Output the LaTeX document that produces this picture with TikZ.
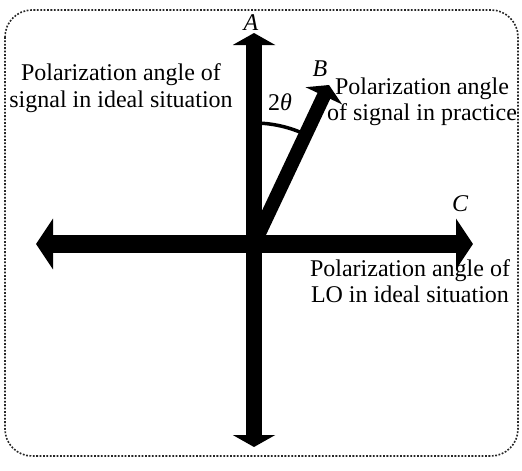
\documentclass[tikz,border=0pt]{standalone}
\usepackage{fontspec}
\setmainfont{Liberation Serif}
\usetikzlibrary{arrows.meta,calc}
\begin{document}
\begin{tikzpicture}[x=1pt,y=-1pt,
  lbl/.style={inner sep=0pt,align=center,font=\fontsize{24}{26.5}\selectfont},
  axlbl/.style={inner sep=0pt,font=\fontsize{24}{26}\selectfont\itshape},
  vaxis/.style={line width=16pt,{Triangle[width=42pt,length=12pt]}-{Triangle[width=42pt,length=12pt]}},
  haxis/.style={line width=18pt,{Triangle[width=50pt,length=17pt]}-{Triangle[width=50pt,length=17pt]}},
  saxis/.style={line width=14pt,-{Triangle[width=40pt,length=12pt]}},
  frame/.style={line width=1.6pt,draw=black!85,dash pattern=on 1.8pt off 1.6pt,rounded corners=27pt}]
\useasboundingbox (0,0) rectangle (522,471);
\draw[frame] (5,10) rectangle (518,456);
\coordinate (O) at (254,244);
\coordinate (Atip) at (254,33);
\coordinate (Dtip) at (254,447);
\coordinate (Ltip) at (36,244);
\coordinate (Ctip) at (473,244);
\coordinate (Btip) at (329,85);
\draw[vaxis] (Dtip) -- (Atip);
\draw[haxis] (Ltip) -- (Ctip);
\draw[saxis] (O) -- (Btip);
\draw[line width=3.5pt] ($(O)+(0,-121)$) arc[start angle=-90,end angle=-64.7,radius=121];
\node[axlbl] (A) at (251,23) {A};
\node[axlbl] (B) at (320,69) {B};
\node[axlbl] (C) at (460,204) {C};
\node[inner sep=0pt,font=\fontsize{24}{26}\selectfont] (th) at (280,102) {2\textit{θ}};
\node[lbl] (sig) at (121,88) {Polarization angle of\\signal in ideal situation};
\node[lbl] (prac) at (422,102) {Polarization angle\\of signal in practice};
\node[lbl] (lo) at (410,281) {Polarization angle of\\LO in ideal situation};
\end{tikzpicture}
\end{document}
